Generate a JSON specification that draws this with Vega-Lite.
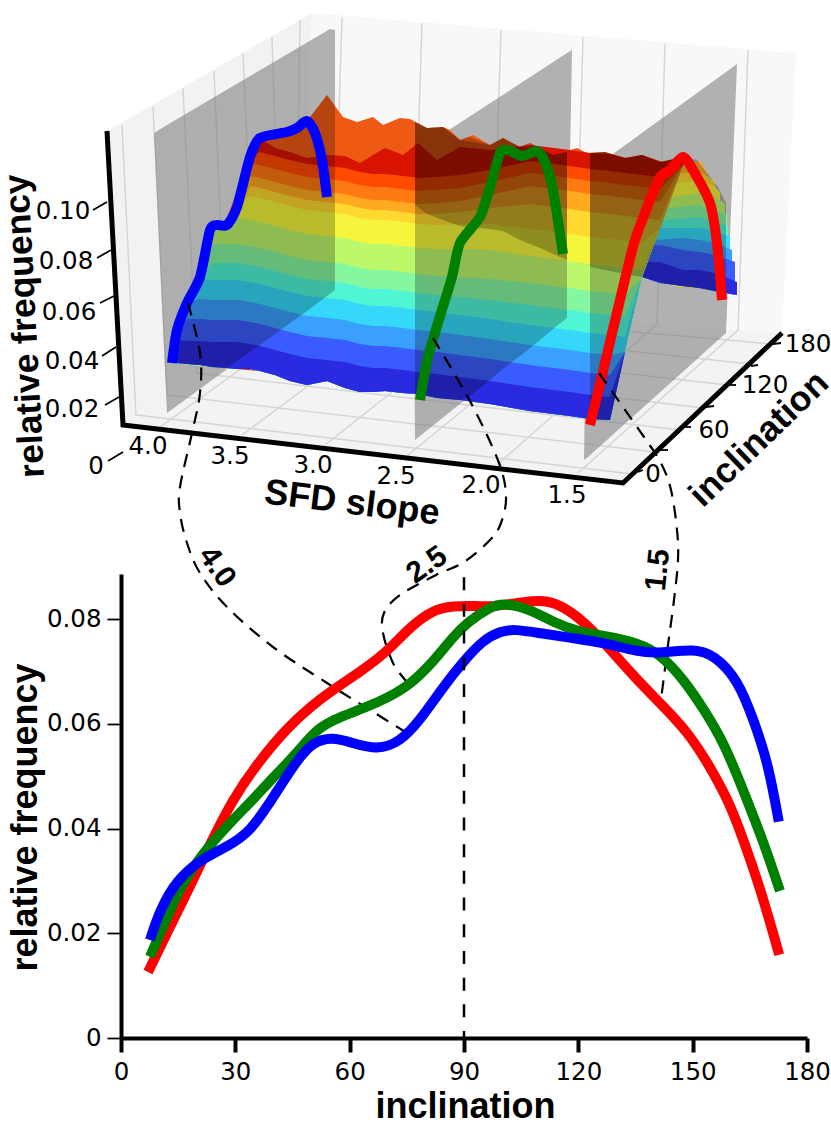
{
"$schema":"https://vega.github.io/schema/vega-lite/v6.json",
"width":831,"height":1129,"padding":0,"autosize":{"type":"none"},"background":"white",
"config":{"view":{"stroke":null},"axis":{"grid":false}},
"datasets":{
"edge":[{"x":172,"b":363},{"x":177,"b":363},{"x":187,"b":364},{"x":200,"b":365},{"x":212,"b":367},{"x":227,"b":368},{"x":237,"b":369},{"x":250,"b":369},{"x":260,"b":371},{"x":275,"b":375},{"x":290,"b":381},{"x":307,"b":385},{"x":327,"b":381},{"x":345,"b":388},{"x":360,"b":392},{"x":373,"b":392},{"x":385,"b":391},{"x":403,"b":393},{"x":418,"b":394},{"x":437,"b":398},{"x":460,"b":400},{"x":490,"b":404},{"x":530,"b":411},{"x":570,"b":416},{"x":590,"b":419},{"x":610,"b":420},{"x":625,"b":352},{"x":642,"b":277},{"x":660,"b":228},{"x":683,"b":165}],
"cols":[
{"x":172,"k0":362,"k1":362,"k2":362,"k3":362,"k4":362,"k5":362,"k6":362,"k7":362,"k8":362,"k9":362,"k10":362,"k11":362,"k12":362},
{"x":177,"k0":340,"k1":330},
{"x":187,"k0":341,"k1":319,"k2":303},
{"x":200,"k0":341,"k1":319,"k2":299,"k3":279,"k4":277},
{"x":212,"k0":342,"k1":320,"k2":300,"k3":280,"k4":263,"k5":244,"k6":228},
{"x":227,"k0":342,"k1":320,"k2":300,"k3":280,"k4":263,"k5":244,"k6":225},
{"x":237,"k0":342,"k1":320,"k2":300,"k3":280,"k4":263,"k5":244,"k6":218,"k7":207},
{"x":250,"k0":344,"k1":322,"k2":302,"k3":282,"k4":265,"k5":246,"k6":220,"k7":196,"k8":186,"k9":176,"k10":163,"k11":157},
{"x":260,"k0":346,"k1":324,"k2":304,"k3":284,"k4":267,"k5":248,"k6":222,"k7":198,"k8":188,"k9":178,"k10":165,"k11":152,"k12":138},
{"x":275,"k0":350,"k1":328,"k2":308,"k3":288,"k4":271,"k5":252,"k6":226,"k7":202,"k8":192,"k9":182,"k10":169,"k11":156,"k12":148},
{"x":290,"k0":354,"k1":332,"k2":312,"k3":292,"k4":275,"k5":256,"k6":230,"k7":206,"k8":196,"k9":186,"k10":173,"k11":160,"k12":152},
{"x":307,"k0":358,"k1":336,"k2":316,"k3":296,"k4":279,"k5":260,"k6":234,"k7":210,"k8":200,"k9":190,"k10":177,"k11":164,"k12":158},
{"x":327,"k0":360,"k1":338,"k2":318,"k3":298,"k4":281,"k5":262,"k6":236,"k7":212,"k8":202,"k9":192,"k10":179,"k11":166,"k12":155},
{"x":345,"k0":362,"k1":340,"k2":320,"k3":300,"k4":283,"k5":264,"k6":238,"k7":214,"k8":204,"k9":194,"k10":181,"k11":168,"k12":156},
{"x":360,"k0":366,"k1":344,"k2":324,"k3":304,"k4":287,"k5":268,"k6":242,"k7":218,"k8":208,"k9":198,"k10":185,"k11":172,"k12":163},
{"x":373,"k0":368,"k1":346,"k2":326,"k3":306,"k4":289,"k5":270,"k6":244,"k7":220,"k8":210,"k9":200,"k10":187,"k11":174,"k12":155},
{"x":385,"k0":368,"k1":346,"k2":326,"k3":306,"k4":289,"k5":270,"k6":244,"k7":220,"k8":210,"k9":200,"k10":187,"k11":174,"k12":148},
{"x":403,"k0":370,"k1":348,"k2":328,"k3":308,"k4":291,"k5":272,"k6":246,"k7":222,"k8":212,"k9":202,"k10":189,"k11":176,"k12":155},
{"x":418,"k0":372,"k1":350,"k2":330,"k3":310,"k4":293,"k5":274,"k6":248,"k7":224,"k8":214,"k9":204,"k10":191,"k11":178,"k12":143},
{"x":437,"k0":374,"k1":352,"k2":332,"k3":312,"k4":295,"k5":276,"k6":249,"k7":225,"k8":214,"k9":203,"k10":190,"k11":177,"k12":160},
{"x":460,"k0":377,"k1":355,"k2":335,"k3":315,"k4":297,"k5":277,"k6":249,"k7":224,"k8":212,"k9":201,"k10":188,"k11":175,"k12":147},
{"x":490,"k0":381,"k1":359,"k2":339,"k3":319,"k4":300,"k5":279,"k6":250,"k7":224,"k8":208,"k9":195,"k10":182,"k11":170,"k12":150},
{"x":530,"k0":387,"k1":365,"k2":345,"k3":325,"k4":305,"k5":283,"k6":256,"k7":229,"k8":204,"k9":186,"k10":173,"k11":161,"k12":145},
{"x":570,"k0":392,"k1":370,"k2":350,"k3":330,"k4":310,"k5":288,"k6":261,"k7":234,"k8":209,"k9":191,"k10":178,"k11":166,"k12":150},
{"x":590,"k0":395,"k1":373,"k2":353,"k3":333,"k4":313,"k5":291,"k6":264,"k7":237,"k8":212,"k9":194,"k10":181,"k11":169,"k12":153},
{"x":610,"k0":397,"k1":375,"k2":355,"k3":335,"k4":315,"k5":293,"k6":266,"k7":239,"k8":214,"k9":196,"k10":183,"k11":171,"k12":154},
{"x":625,"k0":352,"k1":352,"k2":352,"k3":337,"k4":317,"k5":295,"k6":268,"k7":241,"k8":216,"k9":198,"k10":185,"k11":173,"k12":158},
{"x":642,"k0":277,"k1":277,"k2":277,"k3":277,"k4":277,"k5":277,"k6":270,"k7":243,"k8":218,"k9":200,"k10":187,"k11":175,"k12":155},
{"x":660,"k0":228,"k1":228,"k2":228,"k3":228,"k4":228,"k5":228,"k6":228,"k7":228,"k8":220,"k9":202,"k10":189,"k11":177,"k12":162},
{"x":683,"k0":165,"k1":165,"k2":165,"k3":165,"k4":165,"k5":165,"k6":165,"k7":165,"k8":165,"k9":165,"k10":165,"k11":165,"k12":157}
]
},
"data":{"values":[{"a":1}]},
"encoding":{
"x":{"field":"px","type":"quantitative","scale":{"domain":[0,831],"range":[0,831]},"axis":null},
"y":{"field":"py","type":"quantitative","scale":{"domain":[0,1129],"range":[0,1129]},"axis":null}
},
"resolve":{"scale":{"x":"independent","y":"independent","color":"independent"},"axis":{"x":"independent","y":"independent"}},
"layer":[
{"data":{"values":[
{"k":"left","px":110,"py":130,"pb":130},{"k":"left","px":123,"py":122,"pb":425},{"k":"left","px":298,"py":21,"pb":300},{"k":"left","px":312,"py":13,"pb":301},
{"k":"back","px":298,"py":300,"pb":300},{"k":"back","px":312,"py":13,"pb":301},{"k":"back","px":782,"py":52,"pb":333},{"k":"back","px":796,"py":53,"pb":53},
{"k":"floor","px":123,"py":425,"pb":425},{"k":"floor","px":298,"py":300,"pb":445},{"k":"floor","px":623,"py":322,"pb":482},{"k":"floor","px":782,"py":333,"pb":333}
]},"mark":{"type":"area"},"encoding":{"y2":{"field":"pb"},"color":{"field":"k","type":"nominal","scale":{"domain":["left","back","floor"],"range":["#f2f2f2","#f8f8f8","#f3f3f3"]},"legend":null}}},
{"data":{"values":[
{"k":"a","px":122,"py":125},{"k":"a","px":136,"py":416},{"k":"b","px":153,"py":107},{"k":"b","px":167,"py":395},{"k":"c","px":183,"py":88},{"k":"c","px":197,"py":373},{"k":"d","px":214,"py":71},{"k":"d","px":226,"py":351},{"k":"e","px":243,"py":53},{"k":"e","px":255,"py":331},{"k":"f","px":272,"py":37},{"k":"f","px":281,"py":313},{"k":"g","px":300,"py":20},{"k":"g","px":296,"py":302},
{"k":"h","px":342,"py":17},{"k":"h","px":333,"py":303},{"k":"i","px":422,"py":23},{"k":"i","px":413,"py":308},{"k":"j","px":501,"py":30},{"k":"j","px":492,"py":313},{"k":"l","px":583,"py":37},{"k":"l","px":575,"py":319},{"k":"m","px":665,"py":44},{"k":"m","px":657,"py":324},{"k":"n","px":748,"py":50},{"k":"n","px":738,"py":330},
{"k":"o","px":160,"py":427},{"k":"o","px":333,"py":303},{"k":"p","px":242,"py":435},{"k":"p","px":413,"py":308},{"k":"q","px":325,"py":445},{"k":"q","px":492,"py":313},{"k":"r","px":408,"py":455},{"k":"r","px":575,"py":319},{"k":"s","px":499,"py":463},{"k":"s","px":657,"py":324},{"k":"t","px":578,"py":473},{"k":"t","px":738,"py":330},
{"k":"u","px":137,"py":415},{"k":"u","px":632,"py":474},{"k":"v","px":167,"py":395},{"k":"v","px":655,"py":452},{"k":"w","px":196,"py":373},{"k":"w","px":680,"py":430},{"k":"x","px":226,"py":351},{"k":"x","px":703,"py":408},{"k":"y","px":255,"py":331},{"k":"y","px":727,"py":385},{"k":"z","px":280,"py":313},{"k":"z","px":750,"py":364},{"k":"z2","px":296,"py":302},{"k":"z2","px":772,"py":344}
]},"mark":{"type":"line","stroke":"#d4d4d4","strokeWidth":1.4},"encoding":{"detail":{"field":"k"},"order":{"value":null}}},
{"data":{"values":[
{"k":"A","px":154,"py":133,"pb":133},{"k":"A","px":167,"py":125,"pb":413},{"k":"A","px":330,"py":29,"pb":294},{"k":"A","px":335,"py":30,"pb":290},
{"k":"B","px":413,"py":153,"pb":153},{"k":"B","px":415,"py":152,"pb":440},{"k":"B","px":567,"py":53,"pb":318},{"k":"B","px":572,"py":50,"pb":50},
{"k":"C","px":584,"py":460,"pb":460},{"k":"C","px":588,"py":172,"pb":457},{"k":"C","px":726,"py":72,"pb":333},{"k":"C","px":737,"py":64,"pb":64}
]},"mark":{"type":"area","color":"#777777","opacity":0.55},"encoding":{"y2":{"field":"pb"},"detail":{"field":"k"}}},
{"data":{"values":[
{"px":260,"py":138},{"px":287,"py":132},{"px":307,"py":121},{"px":327,"py":95},{"px":343,"py":117},{"px":357,"py":122},{"px":373,"py":117},{"px":383,"py":125},{"px":400,"py":118},{"px":410,"py":119},{"px":427,"py":128},{"px":443,"py":127},{"px":450,"py":130},{"px":460,"py":140},{"px":473,"py":135},{"px":490,"py":145},{"px":503,"py":138},{"px":520,"py":147},{"px":530,"py":143},{"px":540,"py":148},{"px":553,"py":155},{"px":577,"py":148},{"px":587,"py":153},{"px":605,"py":152},{"px":627,"py":158},{"px":642,"py":155},{"px":663,"py":162},{"px":683,"py":157}
]},"mark":{"type":"area","color":"#ee5a14"},"encoding":{"y2":{"datum":170}}},
{"data":{"values":[
{"k":"k9","px":642,"py":165,"pb":277},{"k":"k9","px":683,"py":165,"pb":287},{"k":"k9","px":700,"py":161,"pb":288},{"k":"k9","px":707,"py":173,"pb":290},
{"k":"k8","px":642,"py":173,"pb":277},{"k":"k8","px":680,"py":173,"pb":287},{"k":"k8","px":700,"py":172,"pb":288},{"k":"k8","px":710,"py":178,"pb":290},{"k":"k8","px":715,"py":182,"pb":291},
{"k":"k7","px":642,"py":183,"pb":277},{"k":"k7","px":676,"py":183,"pb":286},{"k":"k7","px":700,"py":180,"pb":288},{"k":"k7","px":715,"py":187,"pb":291},{"k":"k7","px":720,"py":192,"pb":292},
{"k":"k6","px":642,"py":197,"pb":277},{"k":"k6","px":671,"py":197,"pb":285},{"k":"k6","px":700,"py":193,"pb":288},{"k":"k6","px":715,"py":197,"pb":291},{"k":"k6","px":725,"py":204,"pb":293},
{"k":"k5","px":642,"py":208,"pb":277},{"k":"k5","px":667,"py":208,"pb":284},{"k":"k5","px":700,"py":205,"pb":288},{"k":"k5","px":715,"py":210,"pb":291},{"k":"k5","px":727,"py":215,"pb":293},
{"k":"k4","px":642,"py":220,"pb":277},{"k":"k4","px":663,"py":220,"pb":283},{"k":"k4","px":700,"py":217,"pb":288},{"k":"k4","px":715,"py":222,"pb":291},{"k":"k4","px":728,"py":226,"pb":293},
{"k":"k3","px":642,"py":228,"pb":277},{"k":"k3","px":660,"py":228,"pb":283},{"k":"k3","px":700,"py":228,"pb":288},{"k":"k3","px":715,"py":232,"pb":291},{"k":"k3","px":730,"py":236,"pb":294},
{"k":"k2","px":642,"py":240,"pb":277},{"k":"k2","px":655,"py":240,"pb":281},{"k":"k2","px":683,"py":238,"pb":286},{"k":"k2","px":700,"py":240,"pb":288},{"k":"k2","px":715,"py":243,"pb":291},{"k":"k2","px":732,"py":250,"pb":294},
{"k":"k1","px":642,"py":246,"pb":277},{"k":"k1","px":660,"py":245,"pb":283},{"k":"k1","px":683,"py":250,"pb":286},{"k":"k1","px":700,"py":252,"pb":288},{"k":"k1","px":715,"py":255,"pb":291},{"k":"k1","px":735,"py":262,"pb":295},
{"k":"k0","px":642,"py":262,"pb":277},{"k":"k0","px":660,"py":262,"pb":283},{"k":"k0","px":683,"py":270,"pb":286},{"k":"k0","px":700,"py":270,"pb":288},{"k":"k0","px":715,"py":273,"pb":291},{"k":"k0","px":737,"py":282,"pb":295}
]},"mark":{"type":"area"},"encoding":{"y2":{"field":"pb"},"color":{"field":"k","type":"nominal","sort":null,"scale":{"domain":["k12","k11","k10","k9","k8","k7","k6","k5","k4","k3","k2","k1","k0"],"range":["#d81400","#ff4a00","#ff7a10","#ffaa20","#ffd830","#f5f53c","#bdf76a","#85f7a0","#50f5d5","#35d8f8","#3aa0ff","#3a5cff","#2a2ae0"]},"legend":null}}},
{"data":{"name":"cols"},"transform":[
{"lookup":"x","from":{"data":{"name":"edge"},"key":"x","fields":["b"]},"as":["pb"]},
{"fold":["k12","k11","k10","k9","k8","k7","k6","k5","k4","k3","k2","k1","k0"],"as":["k","py"]},
{"filter":"isValid(datum.py)"},
{"calculate":"datum.x","as":"px"}
],"mark":{"type":"area"},"encoding":{"y2":{"field":"pb"},"color":{"field":"k","type":"nominal","sort":null,"scale":{"domain":["k12","k11","k10","k9","k8","k7","k6","k5","k4","k3","k2","k1","k0"],"range":["#d81400","#ff4a00","#ff7a10","#ffaa20","#ffd830","#f5f53c","#bdf76a","#85f7a0","#50f5d5","#35d8f8","#3aa0ff","#3a5cff","#2a2ae0"]},"legend":null}}},
{"data":{"values":[
{"k":"A","px":172,"py":362,"pb":362},{"k":"A","px":187,"py":303,"pb":364},{"k":"A","px":200,"py":277,"pb":365},{"k":"A","px":212,"py":228,"pb":367},{"k":"A","px":227,"py":225,"pb":368},{"k":"A","px":237,"py":207,"pb":361},{"k":"A","px":250,"py":157,"pb":352},{"k":"A","px":260,"py":138,"pb":345},{"k":"A","px":275,"py":135,"pb":334},{"k":"A","px":290,"py":131,"pb":323},{"k":"A","px":307,"py":121,"pb":311},{"k":"A","px":327,"py":95,"pb":296},{"k":"A","px":335,"py":106,"pb":290},
{"k":"B","px":415,"py":122,"pb":394},{"k":"B","px":427,"py":128,"pb":396},{"k":"B","px":443,"py":127,"pb":399},{"k":"B","px":460,"py":140,"pb":400},{"k":"B","px":470,"py":137,"pb":396},{"k":"B","px":490,"py":145,"pb":380},{"k":"B","px":503,"py":138,"pb":369},{"k":"B","px":520,"py":147,"pb":356},{"k":"B","px":530,"py":143,"pb":348},{"k":"B","px":540,"py":148,"pb":340},{"k":"B","px":553,"py":155,"pb":329},{"k":"B","px":567,"py":152,"pb":318},
{"k":"C","px":590,"py":153,"pb":419},{"k":"C","px":605,"py":152,"pb":420},{"k":"C","px":610,"py":154,"pb":420},{"k":"C","px":625,"py":158,"pb":352},{"k":"C","px":642,"py":155,"pb":277},{"k":"C","px":663,"py":162,"pb":283},{"k":"C","px":683,"py":157,"pb":287},{"k":"C","px":697,"py":160,"pb":288},{"k":"C","px":707,"py":173,"pb":290},{"k":"C","px":718,"py":187,"pb":292},{"k":"C","px":726,"py":203,"pb":293},
{"k":"D","px":415,"py":122,"pb":205},{"k":"D","px":427,"py":128,"pb":214},{"k":"D","px":443,"py":127,"pb":220},{"k":"D","px":460,"py":140,"pb":226},{"k":"D","px":490,"py":145,"pb":229},{"k":"D","px":503,"py":138,"pb":231},{"k":"D","px":520,"py":147,"pb":240},{"k":"D","px":540,"py":148,"pb":248},{"k":"D","px":553,"py":155,"pb":254},{"k":"D","px":567,"py":152,"pb":260},
{"k":"E","px":590,"py":153,"pb":267},{"k":"E","px":605,"py":152,"pb":270},{"k":"E","px":625,"py":158,"pb":274},{"k":"E","px":642,"py":155,"pb":277},{"k":"E","px":660,"py":162,"pb":228},{"k":"E","px":683,"py":157,"pb":165}
]},"mark":{"type":"area","color":"black","opacity":0.24},"encoding":{"y2":{"field":"pb"},"detail":{"field":"k"}}},
{"data":{"values":[
{"k":"r","px":590,"py":425},{"k":"r","px":601,"py":380},{"k":"r","px":614,"py":325},{"k":"r","px":626,"py":275},{"k":"r","px":635,"py":240},{"k":"r","px":650,"py":200},{"k":"r","px":660,"py":177},{"k":"r","px":670,"py":170},{"k":"r","px":683,"py":157},{"k":"r","px":693,"py":170},{"k":"r","px":710,"py":203},{"k":"r","px":717,"py":243},{"k":"r","px":722,"py":300},
{"k":"g","px":420,"py":400},{"k":"g","px":428,"py":357},{"k":"g","px":441,"py":313},{"k":"g","px":452,"py":277},{"k":"g","px":460,"py":243},{"k":"g","px":480,"py":217},{"k":"g","px":490,"py":187},{"k":"g","px":500,"py":153},{"k":"g","px":508,"py":150},{"k":"g","px":522,"py":156},{"k":"g","px":537,"py":151},{"k":"g","px":545,"py":162},{"k":"g","px":553,"py":190},{"k":"g","px":563,"py":254},
{"k":"b","px":172,"py":363},{"k":"b","px":177,"py":330},{"k":"b","px":187,"py":303},{"k":"b","px":200,"py":277},{"k":"b","px":210,"py":230},{"k":"b","px":217,"py":225},{"k":"b","px":227,"py":225},{"k":"b","px":237,"py":207},{"k":"b","px":250,"py":157},{"k":"b","px":260,"py":138},{"k":"b","px":287,"py":132},{"k":"b","px":297,"py":128},{"k":"b","px":307,"py":121},{"k":"b","px":315,"py":133},{"k":"b","px":322,"py":160},{"k":"b","px":327,"py":197}
]},"mark":{"type":"line","interpolate":"cardinal","tension":0.3,"strokeWidth":10},"encoding":{"color":{"field":"k","type":"nominal","scale":{"domain":["r","g","b"],"range":["#ff0000","#008000","#0000ff"]},"legend":null},"order":{"value":null}}},
{"data":{"values":[
{"k":"a","px":188,"py":303},{"k":"a","px":200,"py":353},{"k":"a","px":200,"py":393},{"k":"a","px":192,"py":433},{"k":"a","px":180,"py":487},{"k":"a","px":180,"py":513},{"k":"a","px":187,"py":543},{"k":"a","px":200,"py":573},{"k":"a","px":227,"py":607},{"k":"a","px":273,"py":647},{"k":"a","px":327,"py":683},{"k":"a","px":370,"py":710},{"k":"a","px":407,"py":733},
{"k":"b","px":433,"py":338},{"k":"b","px":471,"py":403},{"k":"b","px":499,"py":463},{"k":"b","px":506,"py":497},{"k":"b","px":501,"py":523},{"k":"b","px":490,"py":540},{"k":"b","px":464,"py":562},{"k":"b","px":436,"py":575},{"k":"b","px":400,"py":595},{"k":"b","px":384,"py":613},{"k":"b","px":383,"py":633},{"k":"b","px":393,"py":663},{"k":"b","px":407,"py":682},
{"k":"c","px":599,"py":373},{"k":"c","px":644,"py":437},{"k":"c","px":661,"py":463},{"k":"c","px":671,"py":490},{"k":"c","px":677,"py":530},{"k":"c","px":678,"py":560},{"k":"c","px":674,"py":600},{"k":"c","px":668,"py":645},{"k":"c","px":661,"py":700}
]},"mark":{"type":"line","interpolate":"cardinal","stroke":"black","strokeWidth":2.2,"strokeDash":[13,9]},"encoding":{"detail":{"field":"k"},"order":{"value":null}}},
{"data":{"values":[
{"px":107,"py":131},{"px":123,"py":425},{"px":623,"py":483},{"px":782,"py":333}
]},"mark":{"type":"line","stroke":"black","strokeWidth":5,"strokeJoin":"miter"},"encoding":{"order":{"value":null}}},
{"data":{"values":[
{"k":"1","px":93,"py":210},{"k":"1","px":107,"py":202},{"k":"2","px":97,"py":258},{"k":"2","px":111,"py":250},{"k":"3","px":100,"py":303},{"k":"3","px":114,"py":296},{"k":"4","px":102,"py":356},{"k":"4","px":116,"py":347},{"k":"5","px":105,"py":405},{"k":"5","px":119,"py":397},{"k":"6","px":108,"py":461},{"k":"6","px":123,"py":452},
{"k":"7","px":638,"py":472},{"k":"7","px":643,"py":470},{"k":"8","px":659,"py":450},{"k":"8","px":668,"py":450},{"k":"9","px":683,"py":427},{"k":"9","px":691,"py":427},{"k":"10","px":706,"py":407},{"k":"10","px":714,"py":406},{"k":"11","px":729,"py":385},{"k":"11","px":736,"py":385},{"k":"12","px":751,"py":366},{"k":"12","px":758,"py":365},{"k":"13","px":773,"py":344},{"k":"13","px":781,"py":343}
]},"mark":{"type":"line","stroke":"black","strokeWidth":1.8},"encoding":{"detail":{"field":"k"}}},
{"data":{"values":[
{"t":"0.10","px":63,"py":212},{"t":"0.08","px":66,"py":262},{"t":"0.06","px":69,"py":313},{"t":"0.04","px":72,"py":362},{"t":"0.02","px":72,"py":410},{"t":"0","px":96,"py":467},
{"t":"4.0","px":148,"py":447},{"t":"3.5","px":230,"py":457},{"t":"3.0","px":313,"py":466},{"t":"2.5","px":396,"py":477},{"t":"2.0","px":481,"py":486},{"t":"1.5","px":567,"py":496},
{"t":"0","px":653,"py":475},{"t":"60","px":714,"py":431},{"t":"120","px":765,"py":386},{"t":"180","px":808,"py":345}
]},"mark":{"type":"text","font":"DejaVu Sans","fontSize":24.5,"color":"black","align":"center","baseline":"middle"},"encoding":{"text":{"field":"t"}}},
{"data":{"values":[{"t":"relative frequency","px":25,"py":326}]},"mark":{"type":"text","font":"Liberation Sans","fontWeight":"bold","fontSize":35.5,"color":"black","angle":267,"align":"center","baseline":"middle"},"encoding":{"text":{"field":"t"}}},
{"data":{"values":[{"t":"SFD slope","px":352,"py":503}]},"mark":{"type":"text","font":"Liberation Sans","fontWeight":"bold","fontSize":36,"color":"black","angle":7,"align":"center","baseline":"middle"},"encoding":{"text":{"field":"t"}}},
{"data":{"values":[{"t":"inclination","px":759,"py":439}]},"mark":{"type":"text","font":"Liberation Sans","fontWeight":"bold","fontSize":35.5,"color":"black","angle":316,"align":"center","baseline":"middle"},"encoding":{"text":{"field":"t"}}},
{"data":{"values":[{"t":"4.0","px":217,"py":567}]},"mark":{"type":"text","font":"Liberation Sans","fontWeight":"bold","fontSize":30,"color":"black","angle":55,"align":"center","baseline":"middle"},"encoding":{"text":{"field":"t"}}},
{"data":{"values":[{"t":"2.5","px":427,"py":565}]},"mark":{"type":"text","font":"Liberation Sans","fontWeight":"bold","fontSize":30,"color":"black","angle":325,"align":"center","baseline":"middle"},"encoding":{"text":{"field":"t"}}},
{"data":{"values":[{"t":"1.5","px":658,"py":570}]},"mark":{"type":"text","font":"Liberation Sans","fontWeight":"bold","fontSize":30,"color":"black","angle":276,"align":"center","baseline":"middle"},"encoding":{"text":{"field":"t"}}},
{"data":{"values":[
{"s":"r","inclination":7.1,"freq":0.0126},{"s":"r","inclination":12,"freq":0.02},{"s":"r","inclination":17.3,"freq":0.0277},{"s":"r","inclination":22.6,"freq":0.0359},{"s":"r","inclination":29.4,"freq":0.0458},{"s":"r","inclination":36.5,"freq":0.0531},{"s":"r","inclination":43.6,"freq":0.0592},{"s":"r","inclination":49.6,"freq":0.0632},{"s":"r","inclination":55.6,"freq":0.0665},{"s":"r","inclination":62.7,"freq":0.0699},{"s":"r","inclination":69.8,"freq":0.0737},{"s":"r","inclination":75.8,"freq":0.0785},{"s":"r","inclination":81.9,"freq":0.0818},{"s":"r","inclination":87.1,"freq":0.0825},{"s":"r","inclination":93.4,"freq":0.0825},{"s":"r","inclination":97,"freq":0.0823},{"s":"r","inclination":104.2,"freq":0.0831},{"s":"r","inclination":110.2,"freq":0.0837},{"s":"r","inclination":115.5,"freq":0.0827},{"s":"r","inclination":121.5,"freq":0.0795},{"s":"r","inclination":127.8,"freq":0.0747},{"s":"r","inclination":134.6,"freq":0.069},{"s":"r","inclination":142.5,"freq":0.0632},{"s":"r","inclination":148.8,"freq":0.0583},{"s":"r","inclination":154,"freq":0.0525},{"s":"r","inclination":159.3,"freq":0.0455},{"s":"r","inclination":163,"freq":0.0385},{"s":"r","inclination":167.9,"freq":0.0283},{"s":"r","inclination":172.7,"freq":0.0159},
{"s":"g","inclination":7.6,"freq":0.0155},{"s":"g","inclination":11,"freq":0.0212},{"s":"g","inclination":15.5,"freq":0.0288},{"s":"g","inclination":20.7,"freq":0.0346},{"s":"g","inclination":27.8,"freq":0.0405},{"s":"g","inclination":34.6,"freq":0.0455},{"s":"g","inclination":38.3,"freq":0.0485},{"s":"g","inclination":46.2,"freq":0.0544},{"s":"g","inclination":51.4,"freq":0.0592},{"s":"g","inclination":57.5,"freq":0.0613},{"s":"g","inclination":64.5,"freq":0.0632},{"s":"g","inclination":69.8,"freq":0.0649},{"s":"g","inclination":75.8,"freq":0.0674},{"s":"g","inclination":81.9,"freq":0.0718},{"s":"g","inclination":87.1,"freq":0.0766},{"s":"g","inclination":90.8,"freq":0.0793},{"s":"g","inclination":96.8,"freq":0.0823},{"s":"g","inclination":100.5,"freq":0.0831},{"s":"g","inclination":107.6,"freq":0.0818},{"s":"g","inclination":113.6,"freq":0.0793},{"s":"g","inclination":119.9,"freq":0.0776},{"s":"g","inclination":126.7,"freq":0.0768},{"s":"g","inclination":135.6,"freq":0.0755},{"s":"g","inclination":141.7,"freq":0.0732},{"s":"g","inclination":147.7,"freq":0.0684},{"s":"g","inclination":153,"freq":0.0627},{"s":"g","inclination":158.2,"freq":0.0564},{"s":"g","inclination":163.5,"freq":0.0469},{"s":"g","inclination":168.7,"freq":0.0372},{"s":"g","inclination":172.9,"freq":0.0281},
{"s":"b","inclination":7.6,"freq":0.0187},{"s":"b","inclination":10.2,"freq":0.0245},{"s":"b","inclination":14.7,"freq":0.0302},{"s":"b","inclination":20.7,"freq":0.034},{"s":"b","inclination":27.8,"freq":0.0365},{"s":"b","inclination":33.8,"freq":0.0392},{"s":"b","inclination":40,"freq":0.046},{"s":"b","inclination":46.2,"freq":0.0531},{"s":"b","inclination":50.4,"freq":0.0565},{"s":"b","inclination":55.3,"freq":0.0575},{"s":"b","inclination":60.9,"freq":0.0563},{"s":"b","inclination":67.2,"freq":0.055},{"s":"b","inclination":73.2,"freq":0.0565},{"s":"b","inclination":78.5,"freq":0.0607},{"s":"b","inclination":84.5,"freq":0.067},{"s":"b","inclination":89.7,"freq":0.0718},{"s":"b","inclination":95,"freq":0.076},{"s":"b","inclination":99.4,"freq":0.0776},{"s":"b","inclination":103,"freq":0.0781},{"s":"b","inclination":110,"freq":0.0773},{"s":"b","inclination":118,"freq":0.0764},{"s":"b","inclination":126.7,"freq":0.0755},{"s":"b","inclination":135.6,"freq":0.0737},{"s":"b","inclination":141.7,"freq":0.0735},{"s":"b","inclination":150.4,"freq":0.0743},{"s":"b","inclination":155.6,"freq":0.0732},{"s":"b","inclination":161.9,"freq":0.0684},{"s":"b","inclination":166,"freq":0.0607},{"s":"b","inclination":169.8,"freq":0.0525},{"s":"b","inclination":172.6,"freq":0.0413}
]},"mark":{"type":"line","interpolate":"basis","strokeWidth":10},"encoding":{
"x":{"field":"inclination","type":"quantitative","scale":{"domain":[0,180],"range":[121,807]},"axis":{"values":[0,30,60,90,120,150,180],"offset":-91,"title":"inclination","titleFont":"Liberation Sans","titleFontWeight":"bold","titleFontSize":36,"titleColor":"black","titleX":465,"titleY":79,"titleBaseline":"alphabetic","labelFont":"DejaVu Sans","labelFontSize":24.5,"labelColor":"black","labelPadding":8,"labelFlush":false,"domainColor":"black","domainWidth":4,"tickColor":"black","tickWidth":4,"tickSize":14}},
"y":{"field":"freq","type":"quantitative","scale":{"domain":[0,0.0886],"range":[1038,574]},"axis":{"values":[0,0.02,0.04,0.06,0.08],"offset":-121,"labelExpr":"datum.value==0?'0':format(datum.value,'.2f')","title":"relative frequency","titleFont":"Liberation Sans","titleFontWeight":"bold","titleFontSize":36,"titleColor":"black","titleX":-85,"titleY":817,"titleBaseline":"alphabetic","labelFont":"DejaVu Sans","labelFontSize":24.5,"labelColor":"black","labelPadding":6,"domainColor":"black","domainWidth":4,"tickColor":"black","tickWidth":1.8,"tickSize":14}},
"color":{"field":"s","type":"nominal","scale":{"domain":["r","g","b"],"range":["#ff0000","#008000","#0000ff"]},"legend":null}
}},
{"data":{"values":[{"inclination":90,"lo":0,"hi":0.088}]},"mark":{"type":"rule","stroke":"black","strokeWidth":2.5,"strokeDash":[13,13.7]},"encoding":{
"x":{"field":"inclination","type":"quantitative","scale":{"domain":[0,180],"range":[121,807]},"axis":null},
"y":{"field":"hi","type":"quantitative","scale":{"domain":[0,0.0886],"range":[1038,574]},"axis":null},
"y2":{"field":"lo"}
}}
]
}
